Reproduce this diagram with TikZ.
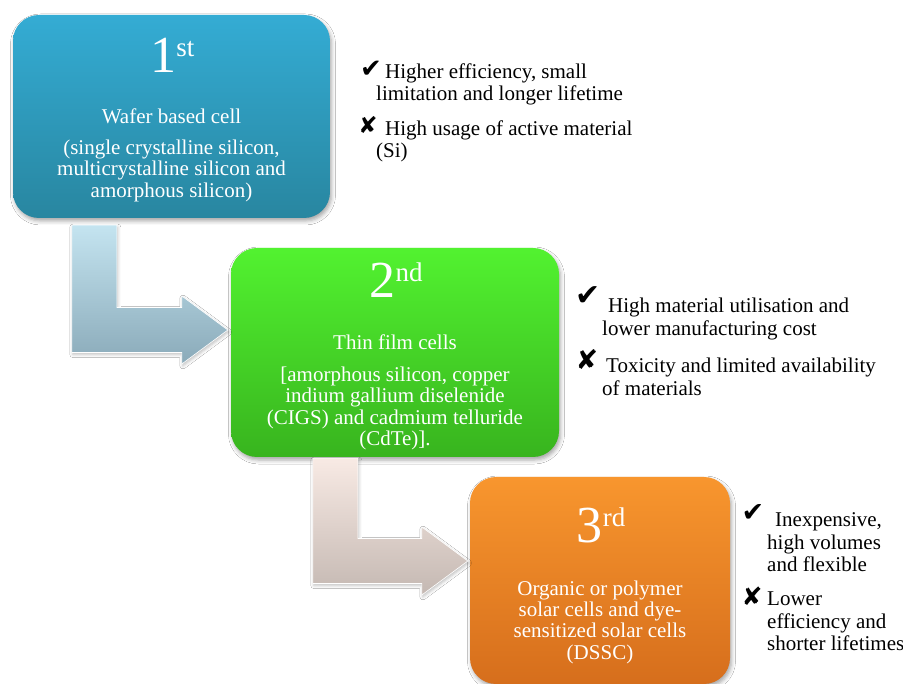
\documentclass[tikz,border=0pt]{standalone}
\usepackage{fontspec}
\setmainfont{Liberation Serif}
\newfontfamily\symfont{DejaVu Sans}
\usetikzlibrary{calc,shadows.blur}
\definecolor{waferTop}{RGB}{52,172,212}
\definecolor{waferBot}{RGB}{40,134,160}
\definecolor{thinTop}{RGB}{82,242,48}
\definecolor{thinBot}{RGB}{56,180,30}
\definecolor{orgTop}{RGB}{248,150,46}
\definecolor{orgBot}{RGB}{214,110,28}
\definecolor{arrBlueTop}{RGB}{196,228,240}
\definecolor{arrBlueBot}{RGB}{138,170,185}
\definecolor{arrRoseTop}{RGB}{248,234,228}
\definecolor{arrRoseBot}{RGB}{196,184,178}
\tikzset{
  genbox/.style={rounded corners=26pt, inner sep=0pt,
    blur shadow={shadow xshift=1.5pt, shadow yshift=-3pt, shadow blur radius=4pt, shadow opacity=35}},
  num/.style={text=white, font=\fontsize{52}{52}\selectfont, inner sep=0pt, anchor=base},
  desc/.style={text=white, font=\fontsize{21}{21.3}\selectfont, align=center, inner sep=0pt, anchor=north},
  note/.style={font=\fontsize{21}{22.5}\selectfont, align=left, inner sep=0pt, anchor=north west},
  sym/.style={font=\symfont\fontsize{#1}{#1}\selectfont, inner sep=0pt},
  bent/.style={draw=white, line width=0.6pt,
    blur shadow={shadow xshift=1pt, shadow yshift=-2pt, shadow blur radius=3pt, shadow opacity=25}}
}
% bent arrow: #1 top left of shaft, #2 tip, #3 style
\newcommand{\bentarrow}[3]{%
  \path[#3] let \p1=(#1), \p2=(#2) in
    (\x1,\y1) -- (\x1+45pt,\y1) -- (\x1+45pt,\y2+22.5pt) -- (\x2-46pt,\y2+22.5pt)
    -- (\x2-46pt,\y2+34pt) -- (\x2,\y2) -- (\x2-46pt,\y2-34pt) -- (\x2-46pt,\y2-22.5pt)
    -- (\x1,\y2-22.5pt) -- cycle;}
\newcommand{\nth}[2]{#1\raisebox{16pt}{\fontsize{27}{27}\selectfont #2}}
\begin{document}
\begin{tikzpicture}[x=1pt,y=-1pt]
  \useasboundingbox[fill=white] (0,0) rectangle (903,684);
  % generation boxes
  \node[genbox, top color=waferTop, bottom color=waferBot, minimum width=317pt, minimum height=203pt] (box1) at (171.5,116.5) {};
  \node[genbox, top color=thinTop, bottom color=thinBot, minimum width=328pt, minimum height=209pt] (box2) at (395,352.5) {};
  \node[genbox, top color=orgTop, bottom color=orgBot, minimum width=260pt, minimum height=207pt] (box3) at (600,580.5) {};
  % bent arrows
  \coordinate (a1s) at ($(box1.south west)+(59,7)$);
  \coordinate (a1t) at ($(box2.west)+(-3,-22.5)$);
  \coordinate (a2s) at ($(box2.south west)+(82,1)$);
  \coordinate (a2t) at ($(box3.west)+(-2,-19.5)$);
  \bentarrow{a1s}{a1t}{bent, top color=arrBlueTop, bottom color=arrBlueBot}
  \bentarrow{a2s}{a2t}{bent, top color=arrRoseTop, bottom color=arrRoseBot}
  % box texts
  \node[num] (n1) at ($(box1.north)+(1,58)$) {\nth{1}{st}};
  \node[desc] (d1) at ($(box1.north)+(0,93.7)$) {Wafer based cell\\[9.7pt](single crystalline silicon,\\multicrystalline silicon and\\amorphous silicon)};
  \node[num] (n2) at ($(box2.north)+(1,50)$) {\nth{2}{nd}};
  \node[desc] (d2) at ($(box2.north)+(0,86.7)$) {Thin film cells\\[10.7pt]{[}amorphous silicon, copper\\indium gallium diselenide\\(CIGS) and cadmium telluride\\(CdTe)].};
  \node[num] (n3) at ($(box3.north)+(1,66)$) {\nth{3}{rd}};
  \node[desc] (d3) at ($(box3.north)+(0,103.7)$) {Organic or polymer\\solar cells and dye-\\sensitized solar cells\\(DSSC)};
  % pros and cons
  \node[note, font=\fontsize{21}{22}\selectfont] (p1) at (376,63.7) {\hspace{9pt}Higher efficiency, small\\limitation and longer lifetime};
  \node[note, font=\fontsize{21}{22}\selectfont] (c1) at (376,120.7) {\hspace{9pt}High usage of active material\\(Si)};
  \node[note, font=\fontsize{21}{23.5}\selectfont] (p2) at (602,297.7) {\hspace{6pt}High material utilisation and\\lower manufacturing cost};
  \node[note, font=\fontsize{21}{23.5}\selectfont] (c2) at (602,357.7) {\hspace{4pt}Toxicity and limited availability\\of materials};
  \node[note] (p3) at (767,512.7) {\hspace{8pt}Inexpensive,\\high volumes\\and flexible};
  \node[note] (c3) at (767,591.7) {Lower\\efficiency and\\shorter lifetimes};
  \node[sym=26] (tick1) at (371,69) {✔};
  \node[sym=23] (cross1) at (368,125) {✘};
  \node[sym=30] (tick2) at (588,296) {✔};
  \node[sym=27] (cross2) at (587,360) {✘};
  \node[sym=27] (tick3) at (753,513) {✔};
  \node[sym=25] (cross3) at (752,596) {✘};
\end{tikzpicture}
\end{document}
